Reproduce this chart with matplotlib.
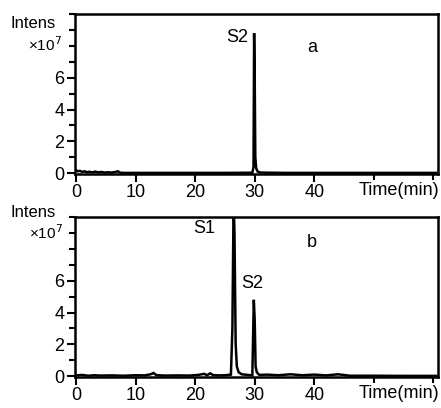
import matplotlib.pyplot as plt
from matplotlib.ticker import MultipleLocator

plt.rcParams['font.family'] = ['Liberation Sans', 'DejaVu Sans']

# chromatogram a (x1e7)
time_a = [0, 0.3, 0.6, 1.0, 1.4, 1.8, 2.2, 2.7, 3.2, 3.7, 4.2, 4.8, 5.4, 6.0, 6.6, 7.0, 7.4, 8.0,
          10, 15, 20, 25, 29.6, 29.8, 29.9, 30.0, 30.1, 30.25, 30.5, 31, 35, 45, 60.5]
intens_a = [0.18, 0.12, 0.15, 0.08, 0.12, 0.06, 0.09, 0.05, 0.1, 0.05, 0.08, 0.04, 0.06, 0.04, 0.08, 0.12, 0.03, 0.02,
            0.02, 0.02, 0.02, 0.02, 0.03, 0.4, 8.8, 6.0, 1.0, 0.3, 0.1, 0.04, 0.02, 0.02, 0.02]

# chromatogram b (x1e7)
time_b = [0, 1, 2, 3, 4, 6, 8, 10, 11.5, 12.5, 13, 13.5, 15, 17, 19, 20.5, 21.5, 22, 22.5, 23, 24, 25, 26.0,
          26.25, 26.45, 26.6, 26.8, 27.0, 27.3, 27.8, 29.6, 29.85, 30.0, 30.15, 30.35, 30.7, 31, 32, 34, 36,
          38, 40, 42, 44, 46, 50, 55, 60.5]
intens_b = [0.05, 0.08, 0.03, 0.06, 0.04, 0.05, 0.03, 0.06, 0.05, 0.12, 0.2, 0.06, 0.04, 0.05, 0.04, 0.08, 0.15, 0.06,
            0.18, 0.07, 0.05, 0.06, 0.1, 3.0, 11.0, 9.0, 2.0, 0.6, 0.25, 0.12, 0.05, 4.8, 3.5, 0.6, 0.25,
            0.1, 0.08, 0.1, 0.06, 0.12, 0.06, 0.1, 0.05, 0.12, 0.03, 0.03, 0.02, 0.02]

W, H = 441, 408
FS = 13
fig = plt.figure(figsize=(W / 100, H / 100), dpi=100)


def panel(top_px, t, y):
    ax = fig.add_axes([75 / W, (H - top_px - 160) / H, 363 / W, 160 / H])
    ax.plot(t, y, color='black', lw=1.8, solid_joinstyle='miter')
    ax.set_xlim(-0.2, 60.8)
    ax.set_ylim(-0.05, 10)
    ax.set_xticks([0, 10, 20, 30, 40])
    ax.xaxis.set_minor_locator(MultipleLocator(2))
    ax.set_xticks([50, 60], minor=True)
    ax.set_xticklabels(['0', '10', '20', '30', '40'])
    ax.set_yticks([0, 2, 4, 6])
    ax.yaxis.set_minor_locator(MultipleLocator(1))
    ax.tick_params(which='both', direction='out', width=1.5, labelsize=FS, pad=1.5)
    ax.tick_params(which='major', length=6)
    ax.tick_params(which='minor', length=4)
    for s in ax.spines.values():
        s.set_linewidth(1.8)
    ax.annotate('Time(min)', xy=(54.3, 0), xycoords=('data', 'axes fraction'),
                xytext=(0, -5.8), textcoords='offset points', ha='center', va='top', fontsize=FS)
    return ax


ax1 = panel(14, time_a, intens_a)
ax1.text(28.9, 8.5, 'S2', ha='right', va='center', fontsize=FS)
ax1.text(39.6, 7.9, 'a', ha='center', va='center', fontsize=FS)

ax2 = panel(217, time_b, intens_b)
ax2.text(23.3, 9.3, 'S1', ha='right', va='center', fontsize=FS)
ax2.text(29.5, 5.8, 'S2', ha='center', va='center', fontsize=FS)
ax2.text(39.6, 8.4, 'b', ha='center', va='center', fontsize=FS)

# axis captions
fig.text(33 / W, 1 - 24 / H, 'Intens', ha='center', va='center', fontsize=12)
fig.text(45 / W, 1 - 45 / H, '×10$^7$', ha='center', va='center', fontsize=11)
fig.text(33 / W, 1 - 212 / H, 'Intens', ha='center', va='center', fontsize=12)
fig.text(46 / W, 1 - 233 / H, '×10$^7$', ha='center', va='center', fontsize=11)

fig.savefig('out.png', dpi=100)
